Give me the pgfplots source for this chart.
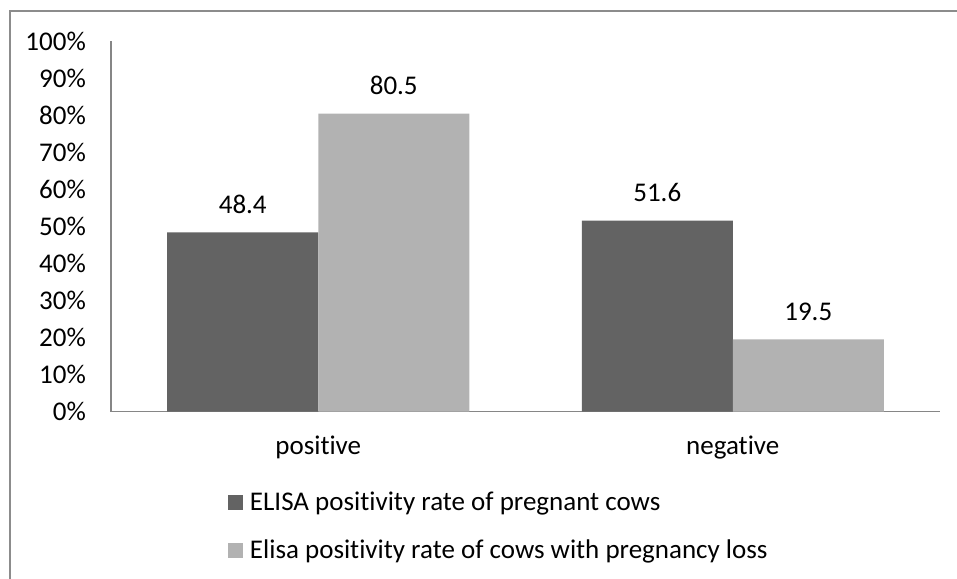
\documentclass[border=0pt]{standalone}
\usepackage{fontspec}
\setmainfont[Ligatures=NoCommon]{Carlito}
\usepackage{pgfplots}
\pgfplotsset{compat=1.18}
\definecolor{darkbar}{HTML}{636363}
\definecolor{lightbar}{HTML}{B2B2B2}
\definecolor{axisgray}{HTML}{868686}
\definecolor{framegray}{HTML}{8C8C8C}
\begin{document}
\fontsize{27bp}{32bp}\selectfont
\begin{tikzpicture}
\begin{axis}[
  at={(0,0)}, anchor=south west,
  scale only axis, width=829bp, height=370bp,
  xmin=-0.5, xmax=1.5, ymin=0, ymax=100,
  axis x line=bottom, axis y line=left,
  axis line style={-, draw=axisgray, line width=1.8bp},
  xtick={0,1}, xticklabels={positive,negative},
  ytick={0,10,20,30,40,50,60,70,80,90,100},
  yticklabels={0\%,10\%,20\%,30\%,40\%,50\%,60\%,70\%,80\%,90\%,100\%},
  major tick length=0pt,
  xticklabel style={anchor=base, inner sep=0pt, yshift=-42.5bp},
  yticklabel style={anchor=east, inner sep=0pt, xshift=-25bp},
  ybar=0pt, bar width=151bp,
  nodes near coords, point meta=explicit symbolic,
  nodes near coords style={anchor=base, inner sep=0pt, yshift=19bp, text=black},
  legend image code/.code={\fill[#1] (0bp,0bp) rectangle (15bp,15bp);},
  legend cell align=left,
  legend style={at={(0.1411,-0.2149)}, anchor=north west, draw=none, fill=none,
    inner sep=0pt, outer sep=0pt, row sep=23bp, column sep=7bp,
    nodes={inner sep=0pt, text height=19bp, text depth=6bp, anchor=base west}},
]
\addplot[fill=darkbar, draw=none] coordinates {(0,48.4) [48.4] (1,51.6) [51.6]};
\addplot[fill=lightbar, draw=none] coordinates {(0,80.5) [80.5] (1,19.5) [19.5]};
\legend{ELISA positivity rate of pregnant cows, Elisa positivity rate of cows with pregnancy loss}
\end{axis}
\draw[framegray, line width=2.5bp] (850bp,400.5bp) -- (-101bp,400.5bp) -- (-101bp,-172bp);
\pgfresetboundingbox
\path (-111bp,-167.5bp) rectangle (846bp,411.5bp);
\end{tikzpicture}
\end{document}
